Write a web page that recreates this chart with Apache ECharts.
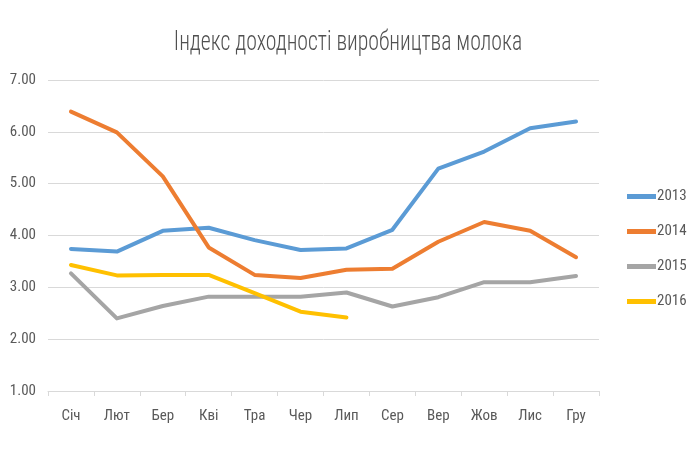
<!DOCTYPE html>
<html>
<head>
<meta charset="utf-8">
<script src="https://cdn.jsdelivr.net/npm/echarts@6/dist/echarts.min.js"></script>
<style>html,body{margin:0;padding:0;background:#fff}#c{width:695px;height:450px}</style>
</head>
<body>
<div id="c"></div>
<script>
const titleText = 'Індекс доходності виробництва молока';
const categories = ['Січ','Лют','Бер','Кві','Тра','Чер','Лип','Сер','Вер','Жов','Лис','Гру'];
const s2013 = [3.74,3.69,4.09,4.15,3.91,3.72,3.75,4.11,5.29,5.62,6.07,6.20];
const s2014 = [6.39,5.99,5.14,3.77,3.24,3.18,3.34,3.36,3.88,4.26,4.09,3.58];
const s2015 = [3.27,2.40,2.64,2.82,2.82,2.82,2.90,2.63,2.81,3.10,3.10,3.22];
const s2016 = [3.43,3.23,3.24,3.24,2.89,2.53,2.42];
const seriesNames = ['2013','2014','2015','2016'];
const colors = ['#5B9BD5','#ED7D31','#A5A5A5','#FFC000'];
const yTicks = {min:1, max:7, interval:1};

const font = '"Roboto Condensed", Roboto, sans-serif';
const chart = echarts.init(document.getElementById('c'));
const data = [s2013, s2014, s2015, s2016];
chart.setOption({
  animation:false,
  color: colors,
  graphic:[{
    type:'text', x:348, y:43, scaleX:0.775, scaleY:1,
    style:{text:titleText, font:'300 28px "Roboto Condensed", Roboto, sans-serif',
      fill:'#505050', align:'center', verticalAlign:'middle'}
  }],
  legend:{
    orient:'vertical', left:622, top:183,
    itemWidth:29, itemHeight:5, itemGap:18, icon:'rect',
    textStyle:{fontFamily:font, fontSize:15, color:'#595959', lineHeight:17, padding:[0,0,0,-4]},
    data: seriesNames
  },
  grid:{left:48, right:96, top:80, bottom:59, containLabel:false},
  xAxis:{
    type:'category', data:categories, boundaryGap:true,
    axisLine:{lineStyle:{color:'#D9D9D9', width:1}},
    axisTick:{show:true, length:5, lineStyle:{color:'#D9D9D9'}},
    axisLabel:{fontFamily:font, fontSize:15, color:'#595959', margin:18}
  },
  yAxis:{
    type:'value', min:yTicks.min, max:yTicks.max, interval:yTicks.interval,
    axisLine:{show:false}, axisTick:{show:false},
    splitLine:{lineStyle:{color:'#D9D9D9', width:1}},
    axisLabel:{fontFamily:font, fontSize:15, color:'#595959', margin:12,
      formatter:v=>v.toFixed(2)}
  },
  series: seriesNames.map((n,i)=>({
    name:n, type:'line', data:data[i], symbol:'none', smooth:false,
    lineStyle:{width:4, color:colors[i], cap:'round', join:'round'}
  }))
});
</script>
</body>
</html>
